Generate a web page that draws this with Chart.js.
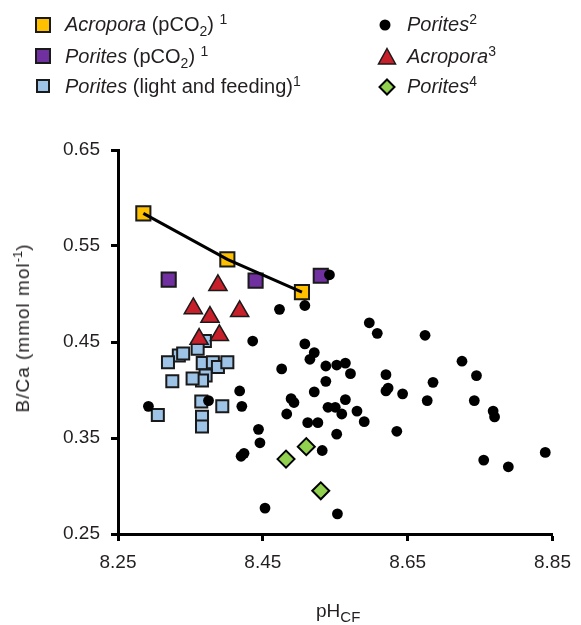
<!DOCTYPE html>
<html>
<head>
<meta charset="utf-8">
<script src="https://cdn.jsdelivr.net/npm/chart.js@4.4.1/dist/chart.umd.min.js"></script>
<style>
  body { margin: 0; background: #fff; font-family: "Liberation Sans", Arial, sans-serif; color: #231f20; }
  #wrap { position: relative; width: 581px; height: 625px; overflow: hidden; }
  #chart { position: absolute; left: 0; top: 0; }
  .leg { position: absolute; font-size: 20px; line-height: 24px; white-space: nowrap; }
  .sub { font-size: 14px; position: relative; top: 5px; line-height: 0; }
  .sup { font-size: 14px; position: relative; top: -7px; line-height: 0; }
  .mk { position: absolute; overflow: visible; }
  #xtitle { position: absolute; left: 316px; top: 600px; font-size: 19px; line-height: 22px; white-space: nowrap; }
  #xtitle .sub { font-size: 15px; top: 5px; }
  #ytitle { position: absolute; left: 23px; top: 328px; font-size: 19px; line-height: 22px; white-space: nowrap;
            letter-spacing: 1px; transform: translate(-50%, -50%) rotate(-90deg); }
  #ytitle .sup { font-size: 13px; top: -7px; letter-spacing: 0; }
</style>
</head>
<body>
<div id="wrap">
  <canvas id="chart" width="581" height="625"></canvas>

  <!-- Legende, linke Spalte -->
  <svg class="mk" style="left:34px;top:15.5px" width="18" height="18"><rect x="2" y="2" width="14" height="14" fill="#FFC000" stroke="#1a1a1a" stroke-width="2"/></svg>
  <div class="leg" style="left:65px;top:12px"><i>Acropora</i> (pCO<span class="sub">2</span>) <span class="sup">1</span></div>
  <svg class="mk" style="left:34px;top:47px" width="18" height="18"><rect x="2" y="2" width="14" height="14" fill="#7030A0" stroke="#1a1a1a" stroke-width="2"/></svg>
  <div class="leg" style="left:65px;top:43.5px"><i>Porites</i> (pCO<span class="sub">2</span>) <span class="sup">1</span></div>
  <svg class="mk" style="left:35px;top:78px" width="16" height="16"><rect x="2" y="2" width="12" height="12" fill="#9DC3E6" stroke="#1a1a1a" stroke-width="2"/></svg>
  <div class="leg" style="left:65px;top:74px"><i>Porites</i> (light and feeding)<span class="sup">1</span></div>

  <!-- Legende, rechte Spalte -->
  <svg class="mk" style="left:378px;top:18px" width="14" height="14"><circle cx="7" cy="7" r="5.5" fill="#000"/></svg>
  <div class="leg" style="left:407px;top:12px"><i>Porites</i><span class="sup">2</span></div>
  <svg class="mk" style="left:377px;top:47px" width="20" height="20"><polygon points="10,1.5 18.5,17 1.5,17" fill="#C8202A" stroke="#1a1a1a" stroke-width="1.5"/></svg>
  <div class="leg" style="left:407px;top:43.5px"><i>Acropora</i><span class="sup">3</span></div>
  <svg class="mk" style="left:378px;top:78px" width="18" height="18"><polygon points="9,1.5 16.5,9 9,16.5 1.5,9" fill="#92D050" stroke="#000" stroke-width="2"/></svg>
  <div class="leg" style="left:407px;top:74px"><i>Porites</i><span class="sup">4</span></div>

  <!-- Achsentitel -->
  <div id="ytitle">B/Ca (mmol mol<span class="sup">-1</span>)</div>
  <div id="xtitle">pH<span class="sub">CF</span></div>
</div>

<script>
// Achsen-Ticks
const xTickValues = [8.25, 8.45, 8.65, 8.85];
const yTickValues = [0.25, 0.35, 0.45, 0.55, 0.65];

// Acropora (pCO2) 1
const acroPco2X = [8.285, 8.401, 8.504];
const acroPco2Y = [0.584, 0.536, 0.502];

// Porites (pCO2) 1
const poritesPco2X = [8.320, 8.440, 8.530];
const poritesPco2Y = [0.515, 0.514, 0.519];

// Porites (light and feeding) 1
const poritesLightX = [8.370, 8.360, 8.334, 8.340, 8.319, 8.367, 8.381, 8.388, 8.401,
                       8.371, 8.366, 8.353, 8.325, 8.365, 8.394, 8.305, 8.366, 8.366];
const poritesLightY = [0.451, 0.443, 0.436, 0.438, 0.429, 0.428, 0.429, 0.424, 0.429,
                       0.415, 0.410, 0.412, 0.409, 0.388, 0.383, 0.374, 0.372, 0.362];

// Porites 2
const porites2X = [8.292, 8.375, 8.418, 8.421, 8.436, 8.444, 8.446, 8.424, 8.420, 8.453,
                   8.473, 8.508, 8.542, 8.508, 8.521, 8.515, 8.476, 8.537, 8.552, 8.564,
                   8.537, 8.521, 8.489, 8.493, 8.564, 8.540, 8.550, 8.559, 8.483, 8.512,
                   8.526, 8.552, 8.532, 8.553, 8.597, 8.608, 8.674, 8.571, 8.620, 8.685,
                   8.725, 8.745, 8.623, 8.620, 8.643, 8.677, 8.742, 8.580, 8.590, 8.635,
                   8.768, 8.770, 8.755, 8.789, 8.840];
const porites2Y = [0.383, 0.389, 0.399, 0.383, 0.451, 0.359, 0.345, 0.334, 0.331, 0.277,
                   0.484, 0.488, 0.520, 0.448, 0.439, 0.432, 0.422, 0.425, 0.426, 0.428,
                   0.409, 0.398, 0.391, 0.387, 0.390, 0.382, 0.382, 0.375, 0.375, 0.366,
                   0.366, 0.354, 0.337, 0.271, 0.470, 0.459, 0.457, 0.417, 0.416, 0.408,
                   0.430, 0.415, 0.402, 0.399, 0.396, 0.389, 0.389, 0.378, 0.367, 0.357,
                   0.378, 0.372, 0.327, 0.320, 0.335];

// Acropora 3
const acropora3X = [8.388, 8.354, 8.377, 8.418, 8.362, 8.390];
const acropora3Y = [0.509, 0.485, 0.476, 0.482, 0.453, 0.457];

// Porites 4
const porites4X = [8.510, 8.482, 8.530];
const porites4Y = [0.341, 0.328, 0.295];

// x/y-Listen zu Punkten zusammenfuegen
function toPoints(xs, ys) {
    return xs.map((x, i) => ({ x: x, y: ys[i] }));
}

const fontFamily = '"Liberation Sans", Arial, sans-serif';
const edge = '#1a1a1a';

const ctx = document.getElementById("chart").getContext("2d");
new Chart(ctx, {
    type: "scatter",
    data: {
        datasets: [
            { // Trendlinie durch Acropora (pCO2)
                data: toPoints(acroPco2X, acroPco2Y),
                showLine: true, borderColor: "#000", borderWidth: 3,
                pointRadius: 0, order: 0
            },
            {
                data: toPoints(porites2X, porites2Y),
                pointStyle: "circle", pointRadius: 5.4,
                backgroundColor: "#000", borderColor: "#000", pointBorderWidth: 0, order: 1
            },
            {
                data: toPoints(acropora3X, acropora3Y),
                pointStyle: "triangle", pointRadius: 10.5,
                backgroundColor: "#C8202A", borderColor: edge, pointBorderWidth: 1.5, order: 2
            },
            {
                data: toPoints(porites4X, porites4Y),
                pointStyle: "rectRot", pointRadius: 8.5,
                backgroundColor: "#92D050", borderColor: "#000", pointBorderWidth: 2, order: 3
            },
            {
                data: toPoints(acroPco2X, acroPco2Y),
                pointStyle: "rect", pointRadius: 10,
                backgroundColor: "#FFC000", borderColor: edge, pointBorderWidth: 2, order: 4
            },
            {
                data: toPoints(poritesPco2X, poritesPco2Y),
                pointStyle: "rect", pointRadius: 10,
                backgroundColor: "#7030A0", borderColor: edge, pointBorderWidth: 2, order: 5
            },
            {
                data: toPoints(poritesLightX, poritesLightY),
                pointStyle: "rect", pointRadius: 8.5,
                backgroundColor: "#9DC3E6", borderColor: edge, pointBorderWidth: 2, order: 6
            }
        ]
    },
    options: {
        responsive: false,
        animation: false,
        events: [],
        clip: false,
        layout: { padding: { top: 150, right: 26, bottom: 0, left: 0 } },
        plugins: { legend: { display: false }, tooltip: { enabled: false } },
        scales: {
            x: {
                type: "linear", min: 8.25, max: 8.85,
                afterBuildTicks: s => { s.ticks = xTickValues.map(v => ({ value: v })); },
                afterFit: s => { s.height = 91; },
                ticks: {
                    callback: v => Number(v).toFixed(2),
                    font: { size: 19, family: fontFamily }, color: "#231f20",
                    padding: 10, maxRotation: 0, autoSkip: false
                },
                grid: { drawOnChartArea: false, drawTicks: true, tickLength: 7, tickWidth: 3, tickColor: "#000", color: "#000" },
                border: { display: true, color: "#000", width: 3 }
            },
            y: {
                type: "linear", min: 0.25, max: 0.65,
                afterBuildTicks: s => { s.ticks = yTickValues.map(v => ({ value: v })); },
                afterFit: s => { s.width = 118; },
                ticks: {
                    callback: v => Number(v).toFixed(2),
                    font: { size: 19, family: fontFamily }, color: "#231f20",
                    padding: 11, autoSkip: false
                },
                grid: { drawOnChartArea: false, drawTicks: true, tickLength: 7, tickWidth: 3, tickColor: "#000", color: "#000" },
                border: { display: true, color: "#000", width: 3 }
            }
        }
    }
});
</script>
</body>
</html>
